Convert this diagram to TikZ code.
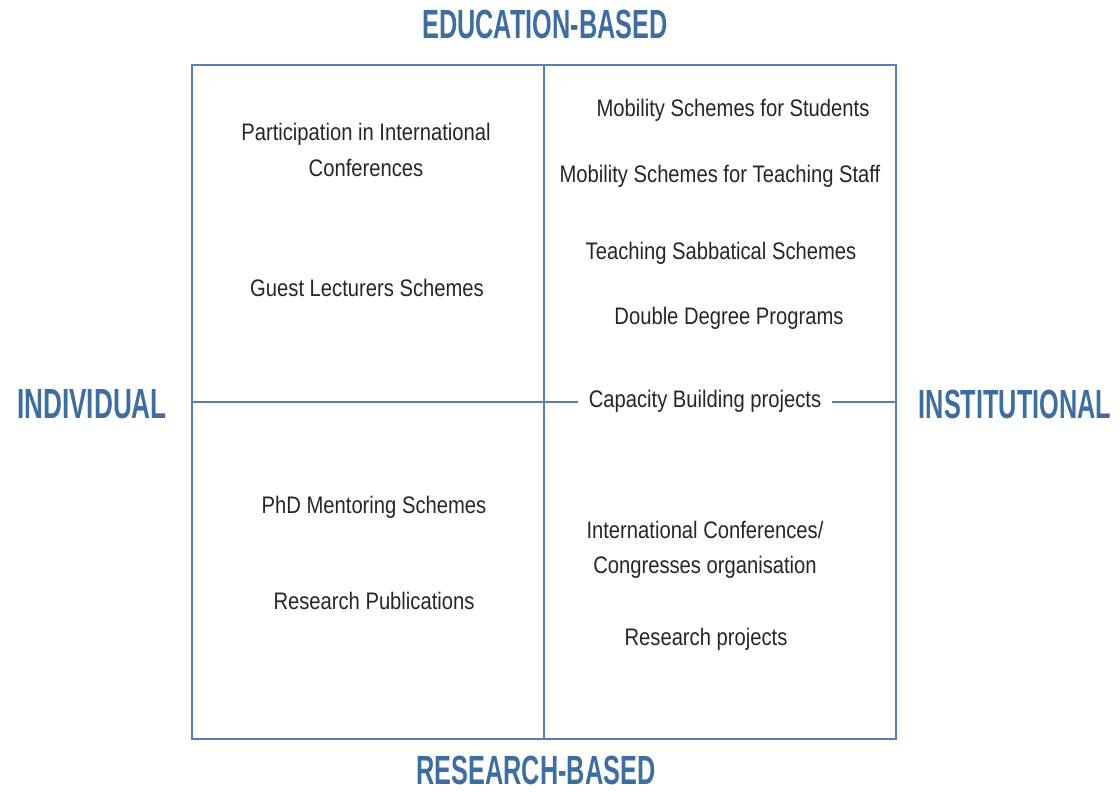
\documentclass[tikz,border=0pt]{standalone}
\usepackage{fontspec}
\setmainfont{Liberation Sans}[FakeStretch=0.845]
\newfontfamily\headfont{Liberation Sans}[FakeStretch=0.62]
\usepackage{tikz}
\usetikzlibrary{positioning}

\definecolor{headblue}{RGB}{62,110,160}
\definecolor{lineblue}{RGB}{88,125,180}

\begin{document}
\begin{tikzpicture}[
  x=0.025cm,y=-0.025cm,
  item/.style={font=\fontsize{17}{25}\selectfont,text=black!85,align=center,inner sep=2pt},
  heading/.style={font=\headfont\fontsize{29}{34}\selectfont\bfseries,text=headblue,inner sep=0pt},
  frame/.style={draw=lineblue,line width=1.3pt}
]
  \useasboundingbox (0,0) rectangle (1120,792);

  % quadrant frame
  \draw[frame] (192,65) rectangle (896,739);
  \draw[frame] (544,65) -- (544,739);
  \draw[frame] (192,402) -- (896,402);

  % axis headings
  \node[heading] (edu)  at (545,24)  {EDUCATION-BASED};
  \node[heading] (res)  at (536,770) {RESEARCH-BASED};
  \node[heading,font=\headfont\fontsize{30}{34}\selectfont\bfseries] (indv) at (92,404) {INDIVIDUAL};
  \node[heading] (inst) at (1015,404) {INSTITUTIONAL};

  % individual / education
  \node[item] (conf)  at (366,150) {Participation in International\\Conferences};
  \node[item] (guest) at (367,288) {Guest Lecturers Schemes};

  % individual / research
  \node[item] (phd)   at (374,507) {PhD Mentoring Schemes};
  \node[item] (pubs)  at (374,601) {Research Publications};

  % institutional / education
  \node[item] (mobst) at (733,110) {Mobility Schemes for Students};
  \node[item] (mobts) at (720,176) {Mobility Schemes for Teaching Staff};
  \node[item] (sabb)  at (721,253) {Teaching Sabbatical Schemes};
  \node[item] (ddeg)  at (729,318) {Double Degree Programs};
  \node[item,fill=white,inner xsep=8pt] (capb) at (705,401) {Capacity Building projects};

  % institutional / research
  \node[item] (iconf) at (705,550) {International Conferences/\\Congresses organisation};
  \node[item] (rproj) at (706,639) {Research projects};
\end{tikzpicture}
\end{document}
